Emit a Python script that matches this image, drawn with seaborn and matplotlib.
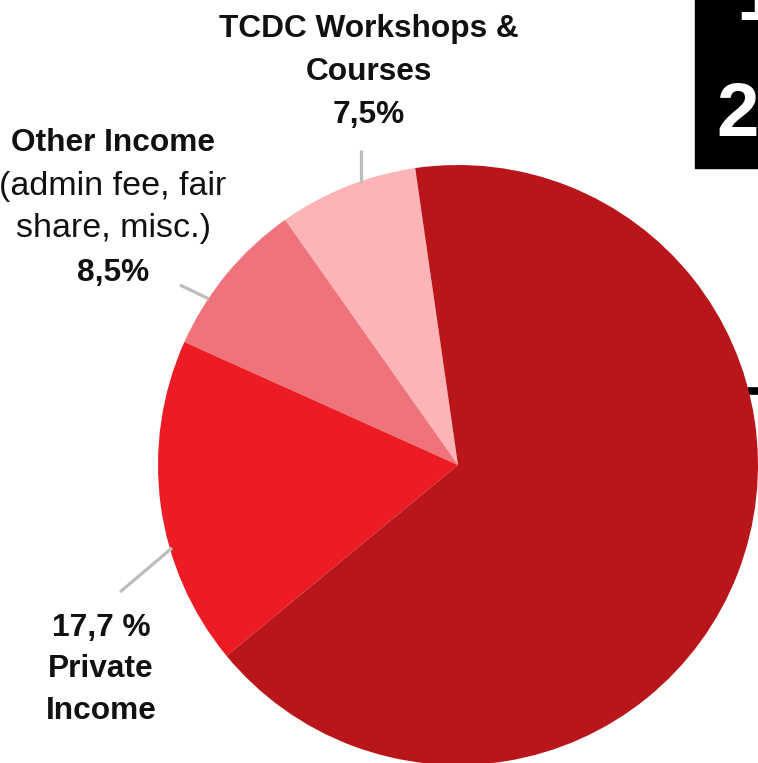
import matplotlib
matplotlib.use("Agg")
import matplotlib.pyplot as plt
import matplotlib.patches as mpatches
import seaborn as sns

# data
labels = ["TCDC Workshops & Courses", "Other Income", "Private Income", "Public Funding"]
shares = [7.5, 8.5, 17.7, 66.3]
colors = ["#FCB4B7", "#EF737B", "#ED1C24", "#B8161A"]

sns.set_theme(style="white")
plt.rcParams['font.family'] = ['Liberation Sans', 'DejaVu Sans']

W, H = 758, 763
fig = plt.figure(figsize=(W / 100, H / 100), dpi=100)
ax = fig.add_axes([0, 0, 1, 1])

# pie in pixel-like coords (y axis inverted, so go clockwise in data)
ax.pie(shares, colors=colors, startangle=-98.2, counterclock=False,
       center=(458, 465), radius=300,
       wedgeprops=dict(linewidth=0))
ax.set_xlim(0, W)
ax.set_ylim(H, 0)
ax.set_aspect('auto')
ax.axis('off')

# leader lines
grey = "#BDBDBD"
ax.plot([361, 361], [150, 183], color=grey, lw=2.3, solid_capstyle='butt')
ax.plot([180, 209], [285, 299], color=grey, lw=2.3, solid_capstyle='butt')
ax.plot([120, 172], [592, 548], color=grey, lw=2.3, solid_capstyle='butt')

def line(x, y, s, bold=True, fs=22.8):
    ax.text(x, y, s, ha='center', va='center', fontsize=fs,
            fontweight='bold' if bold else 'normal', color='#111111')

# TCDC label
line(369, 29, "TCDC Workshops &")
line(369, 72, "Courses")
line(369, 115, "7,5%")

# Other income label
line(113, 143, "Other Income")
line(113, 186, "(admin fee, fair", bold=False, fs=24.5)
line(113, 229, "share, misc.)", bold=False, fs=24.5)
line(113, 273, "8,5%")

# Private income label
line(101, 628, "17,7 %")
line(101, 669, "Private")
line(101, 711, "Income")

# black box on the right edge
ax.add_patch(mpatches.Rectangle((695, -5), 80, 173, color="black", zorder=3))
ax.text(716, 136, "2", ha='left', va='baseline', fontsize=55, fontweight='bold',
        color='white', zorder=4)
ax.text(736, 20, "1", ha='left', va='baseline', fontsize=55, fontweight='bold',
        color='white', zorder=4)
ax.plot([748, 770], [391, 391], color='black', lw=5.5, solid_capstyle='butt', zorder=0)

fig.savefig("out.png", dpi=100)
